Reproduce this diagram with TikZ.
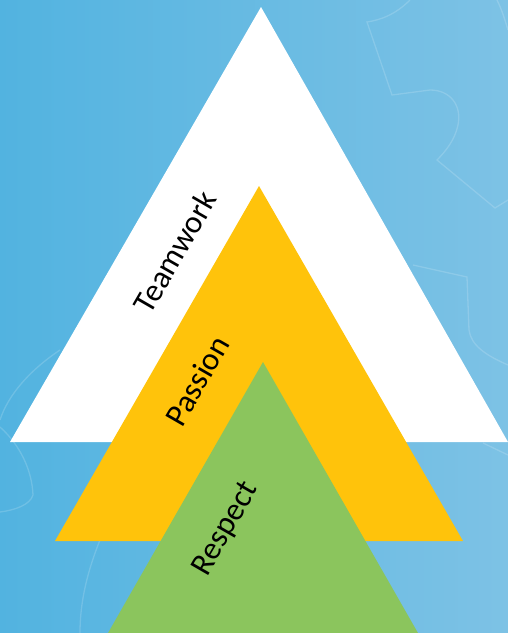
\documentclass[tikz,border=0pt]{standalone}
\usepackage{fontspec}
\setmainfont{Carlito}
\definecolor{bgleft}{HTML}{52B3E0}
\definecolor{bgright}{HTML}{7DC2E5}
\definecolor{tyellow}{HTML}{FFC30B}
\definecolor{tgreen}{HTML}{8BC55D}
\tikzset{
  gearline/.style={draw=white, draw opacity=0.16, line width=1.3pt},
  label/.style={font=\fontsize{32}{34}\selectfont, text=black, rotate=60, inner sep=0pt}
}
\begin{document}
\begin{tikzpicture}[x=1pt,y=-1pt]
\useasboundingbox (0,0) rectangle (508,633);
\shade[left color=bgleft, right color=bgright] (0,0) rectangle (508,633);
% faint gear outlines
\draw[gearline] (410,0) .. controls (395,15) and (380,20) .. (367,22) -- (392,95) -- (430,90)
  .. controls (450,90) and (462,105) .. (458,125) .. controls (455,140) and (445,152) .. (437,160) -- (495,208) -- (508,200);
\draw[gearline] (497,0) .. controls (502,10) and (505,20) .. (508,30);
\draw[gearline] (413,265) -- (467,277) -- (469,330) .. controls (471,345) and (485,355) .. (508,365);
\draw[gearline] (60,350) .. controls (30,370) and (8,395) .. (0,420);
\draw[gearline] (0,427) .. controls (20,445) and (32,470) .. (33,495) .. controls (30,505) and (15,510) .. (0,512);
\draw[gearline] (100,540) .. controls (88,570) and (80,600) .. (80,633);
\draw[gearline] (483,443) -- (508,455);
% triangles
\fill[white] (261,7) coordinate (wa) -- (508,442) coordinate (wr) -- (10,442) coordinate (wl) -- cycle;
\fill[tyellow] (259,186) coordinate (ya) -- (463,541) coordinate (yr) -- (55,541) coordinate (yl) -- cycle;
\fill[tgreen] (263,362) coordinate (ga) -- (418,633) coordinate (gr) -- (108,633) coordinate (gl) -- cycle;
% labels
\node[label] (teamwork) at (175,252) {Teamwork};
\node[label] (passion) at (197,381) {Passion};
\node[label] (respect) at (226,529) {Respect};
\end{tikzpicture}
\end{document}
